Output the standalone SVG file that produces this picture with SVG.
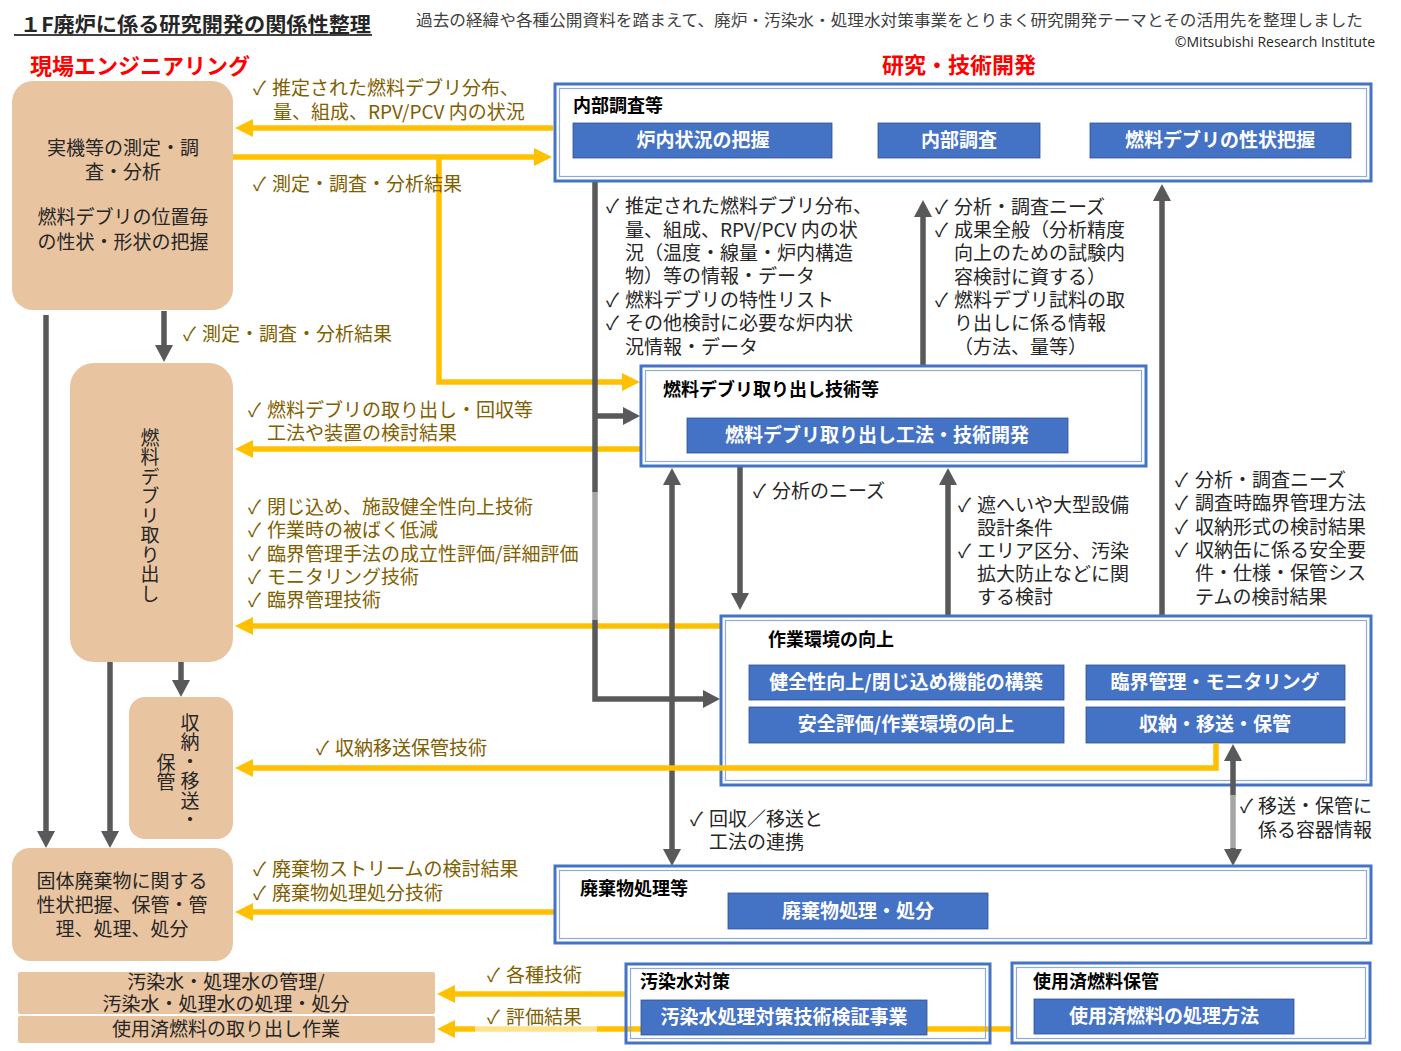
<svg xmlns="http://www.w3.org/2000/svg" width="1401" height="1051" viewBox="0 0 1401 1051">
<style>
text{font-family:"Noto Sans CJK JP","Noto Sans",sans-serif;}
.ttl{font-size:20px;font-weight:bold;fill:#262626;}
.desc{font-size:15.5px;fill:#404040;}
.copy{font-size:14px;fill:#262626;font-family:"Open Sans","Liberation Sans",sans-serif;}
.red{font-size:22px;font-weight:bold;fill:#FF0000;}
.peach{fill:#E9C4A1;}
.btxt{font-size:19px;fill:#262626;text-anchor:middle;}
.vtxt{font-size:19px;fill:#262626;writing-mode:vertical-rl;letter-spacing:0.5px;}
.frame{fill:#FFFFFF;stroke:#4472C4;stroke-width:3;}
.frameIn{fill:none;stroke:#8FAADC;stroke-width:1.2;}
.btn{fill:#4472C4;stroke:#2F528F;stroke-width:0.8;}
.btnt{font-size:19px;font-weight:bold;fill:#FFFFFF;text-anchor:middle;}
.flab{font-size:18px;font-weight:bold;fill:#000000;}
.ol{font-size:19px;fill:#7F6000;}
.gl{font-size:19px;fill:#262626;}
.y{fill:none;stroke:#FFC000;stroke-width:5.5;}
.g{fill:none;stroke:#595959;stroke-width:5.5;}
.gL{fill:none;stroke:#A6A6A6;stroke-width:5.5;}
.ya{marker-end:url(#ay);}
.ga{marker-end:url(#ag);}
</style>
<defs>
<marker id="ay" markerUnits="userSpaceOnUse" markerWidth="18" markerHeight="18" refX="10" refY="9" orient="auto"><path d="M0,0 L18,9 L0,18 z" fill="#FFC000"/></marker>
<marker id="ag" markerUnits="userSpaceOnUse" markerWidth="17" markerHeight="18" refX="9" refY="9" orient="auto"><path d="M0,0 L17,9 L0,18 z" fill="#595959"/></marker>
<marker id="ags" markerUnits="userSpaceOnUse" markerWidth="17" markerHeight="18" refX="9" refY="9" orient="auto-start-reverse"><path d="M0,0 L17,9 L0,18 z" fill="#595959"/></marker>
</defs>
<rect width="1401" height="1051" fill="#FFFFFF"/>

<g id="header">
<text class="ttl" x="20" y="32" textLength="351" lengthAdjust="spacingAndGlyphs">１F廃炉に係る研究開発の関係性整理</text>
<line x1="14" y1="35" x2="372" y2="35" stroke="#404040" stroke-width="2"/>
<text class="desc" x="416" y="26" textLength="947" lengthAdjust="spacingAndGlyphs">過去の経緯や各種公開資料を踏まえて、廃炉・汚染水・処理水対策事業をとりまく研究開発テーマとその活用先を整理しました</text>
<text class="copy" x="1375" y="47" text-anchor="end">©Mitsubishi Research Institute</text>
<text class="red" x="30" y="74">現場エンジニアリング</text>
<text class="red" x="959" y="73" text-anchor="middle">研究・技術開発</text>
</g>

<g id="connectors">
<path class="y ya" d="M553,128 H243"/>
<path class="y ya" d="M233,157 H544"/>
<path class="y ya" d="M439,157 V382 H632"/>
<path class="y ya" d="M641,449 H243"/>
<path class="y ya" d="M721,626 H243"/>
<path class="y ya" d="M555,912 H243"/>
<path class="y ya" d="M626,994 H445"/>
<path class="y ya" d="M1012,1029 H445"/>
<rect x="475" y="1025" width="122" height="8" fill="#FFFFFF" opacity="0.55"/>
<path class="g" d="M595,182 V492"/>
<path class="gL" d="M595,492 V620"/>
<path class="g ga" d="M595,620 V699 H712"/>
<path class="g ga" d="M595,416 H632"/>
<path class="g ga" d="M923,366 V208"/>
<path class="g ga" d="M1162,617 V192"/>
<path class="g ga" d="M740,467 V602"/>
<path class="g ga" d="M948,615 V476"/>
<path class="g" d="M672,476 V858" marker-start="url(#ags)" marker-end="url(#ag)"/>
<path class="g ga" d="M164,311 V354"/>
<path class="g ga" d="M46,315 V840"/>
<path class="g ga" d="M110,662 V840"/>
<path class="g ga" d="M181,662 V689"/>
</g>

<g id="connector-labels">
<text class="ol" x="253" y="95">✓<tspan x="272">推定された燃料デブリ分布、</tspan></text>
<text class="ol" x="273" y="119">量、組成、RPV/PCV 内の状況</text>
<text class="ol" x="253" y="191">✓<tspan x="272">測定・調査・分析結果</tspan></text>
<text class="ol" x="183" y="341">✓<tspan x="202">測定・調査・分析結果</tspan></text>
<text class="ol" x="248" y="417">✓<tspan x="267">燃料デブリの取り出し・回収等</tspan></text>
<text class="ol" x="267" y="440">工法や装置の検討結果</text>
<text class="ol" x="248" y="514">✓<tspan x="267">閉じ込め、施設健全性向上技術</tspan></text>
<text class="ol" x="248" y="537">✓<tspan x="267">作業時の被ばく低減</tspan></text>
<text class="ol" x="248" y="561">✓<tspan x="267">臨界管理手法の成立性評価/詳細評価</tspan></text>
<text class="ol" x="248" y="584">✓<tspan x="267">モニタリング技術</tspan></text>
<text class="ol" x="248" y="607">✓<tspan x="267">臨界管理技術</tspan></text>
<text class="ol" x="316" y="755">✓<tspan x="335">収納移送保管技術</tspan></text>
<text class="ol" x="253" y="876">✓<tspan x="272">廃棄物ストリームの検討結果</tspan></text>
<text class="ol" x="253" y="900">✓<tspan x="272">廃棄物処理処分技術</tspan></text>
<text class="ol" x="487" y="982">✓<tspan x="506">各種技術</tspan></text>
<text class="ol" x="487" y="1024">✓<tspan x="506">評価結果</tspan></text>

<text class="gl" x="606" y="213">✓<tspan x="625">推定された燃料デブリ分布、</tspan></text>
<text class="gl" x="625" y="237">量、組成、RPV/PCV 内の状</text>
<text class="gl" x="625" y="260">況（温度・線量・炉内構造</text>
<text class="gl" x="625" y="283">物）等の情報・データ</text>
<text class="gl" x="606" y="307">✓<tspan x="625">燃料デブリの特性リスト</tspan></text>
<text class="gl" x="606" y="330">✓<tspan x="625">その他検討に必要な炉内状</tspan></text>
<text class="gl" x="625" y="354">況情報・データ</text>

<text class="gl" x="935" y="214">✓<tspan x="954">分析・調査ニーズ</tspan></text>
<text class="gl" x="935" y="237">✓<tspan x="954">成果全般（分析精度</tspan></text>
<text class="gl" x="954" y="260">向上のための試験内</text>
<text class="gl" x="954" y="284">容検討に資する）</text>
<text class="gl" x="935" y="307">✓<tspan x="954">燃料デブリ試料の取</tspan></text>
<text class="gl" x="954" y="330">り出しに係る情報</text>
<text class="gl" x="954" y="354">（方法、量等）</text>

<text class="gl" x="1175" y="487">✓<tspan x="1195">分析・調査ニーズ</tspan></text>
<text class="gl" x="1175" y="510">✓<tspan x="1195">調査時臨界管理方法</tspan></text>
<text class="gl" x="1175" y="534">✓<tspan x="1195">収納形式の検討結果</tspan></text>
<text class="gl" x="1175" y="557">✓<tspan x="1195">収納缶に係る安全要</tspan></text>
<text class="gl" x="1195" y="580">件・仕様・保管シス</text>
<text class="gl" x="1195" y="604">テムの検討結果</text>

<text class="gl" x="753" y="498">✓<tspan x="772">分析のニーズ</tspan></text>

<text class="gl" x="958" y="512">✓<tspan x="977">遮へいや大型設備</tspan></text>
<text class="gl" x="977" y="535">設計条件</text>
<text class="gl" x="958" y="558">✓<tspan x="977">エリア区分、汚染</tspan></text>
<text class="gl" x="977" y="581">拡大防止などに関</text>
<text class="gl" x="977" y="604">する検討</text>

<text class="gl" x="690" y="826">✓<tspan x="709">回収／移送と</tspan></text>
<text class="gl" x="709" y="849">工法の連携</text>

<text class="gl" x="1240" y="813">✓<tspan x="1258">移送・保管に</tspan></text>
<text class="gl" x="1258" y="837">係る容器情報</text>
</g>

<g id="node-jikki">
<rect class="peach" x="12" y="81" width="221" height="229" rx="21"/>
<text class="btxt" x="123" y="155">実機等の測定・調</text>
<text class="btxt" x="123" y="179">査・分析</text>
<text class="btxt" x="123" y="224">燃料デブリの位置毎</text>
<text class="btxt" x="123" y="249">の性状・形状の把握</text>
</g>

<g id="node-toridashi">
<rect class="peach" x="70" y="363" width="163" height="299" rx="24"/>
<text class="vtxt" x="150" y="428">燃料デブリ取り出し</text>
</g>

<g id="node-shuno">
<rect class="peach" x="129" y="697" width="104" height="142" rx="16"/>
<text class="vtxt" x="190" y="713">収納・移送・</text>
<text class="vtxt" x="166" y="753">保管</text>
</g>

<g id="node-kotai">
<rect class="peach" x="12" y="848" width="221" height="113" rx="18"/>
<text class="btxt" x="122" y="888">固体廃棄物に関する</text>
<text class="btxt" x="122" y="912">性状把握、保管・管</text>
<text class="btxt" x="122" y="936">理、処理、処分</text>
</g>

<g id="node-osensui-kanri">
<rect class="peach" x="18" y="972" width="417" height="42" rx="2"/>
<text class="btxt" x="226" y="989">汚染水・処理水の管理/</text>
<text class="btxt" x="226" y="1011">汚染水・処理水の処理・処分</text>
</g>

<g id="node-shiyozumi-sagyo">
<rect class="peach" x="18" y="1016" width="417" height="27" rx="2"/>
<text class="btxt" x="226" y="1036">使用済燃料の取り出し作業</text>
</g>

<g id="node-naibu">
<rect class="frame" x="555" y="84" width="816" height="97"/>
<rect class="frameIn" x="559.5" y="88.5" width="807" height="88"/>
<text class="flab" x="573" y="112">内部調査等</text>
<rect class="btn" x="573" y="123" width="259" height="35"/>
<text class="btnt" x="703" y="147">炉内状況の把握</text>
<rect class="btn" x="878" y="123" width="162" height="35"/>
<text class="btnt" x="959" y="147">内部調査</text>
<rect class="btn" x="1090" y="123" width="261" height="35"/>
<text class="btnt" x="1220" y="147">燃料デブリの性状把握</text>
</g>

<g id="node-debris">
<rect class="frame" x="641" y="366" width="505" height="100"/>
<rect class="frameIn" x="645.5" y="370.5" width="496" height="91"/>
<text class="flab" x="663" y="396">燃料デブリ取り出し技術等</text>
<rect class="btn" x="687" y="418" width="381" height="35"/>
<text class="btnt" x="877" y="442">燃料デブリ取り出し工法・技術開発</text>
</g>

<g id="node-sagyo">
<rect class="frame" x="721" y="616" width="650" height="169"/>
<rect class="frameIn" x="725.5" y="620.5" width="641" height="160"/>
<text class="flab" x="768" y="646">作業環境の向上</text>
<rect class="btn" x="749" y="665" width="315" height="35"/>
<text class="btnt" x="906" y="689">健全性向上/閉じ込め機能の構築</text>
<rect class="btn" x="1086" y="665" width="259" height="35"/>
<text class="btnt" x="1215" y="689">臨界管理・モニタリング</text>
<rect class="btn" x="749" y="707" width="315" height="36"/>
<text class="btnt" x="906" y="731">安全評価/作業環境の向上</text>
<rect class="btn" x="1086" y="707" width="259" height="36"/>
<text class="btnt" x="1215" y="731">収納・移送・保管</text>
</g>

<g id="connectors-over">
<path class="y ya" d="M1216,743 V768 H243"/>
<path class="g" d="M1233,752 V795" marker-start="url(#ags)"/>
<path class="gL" d="M1233,795 V848"/>
<path class="g ga" d="M1233,848 V858"/>
</g>

<g id="node-haikibutsu">
<rect class="frame" x="555" y="866" width="816" height="77"/>
<rect class="frameIn" x="559.5" y="870.5" width="807" height="68"/>
<text class="flab" x="580" y="895">廃棄物処理等</text>
<rect class="btn" x="728" y="893" width="260" height="36"/>
<text class="btnt" x="858" y="918">廃棄物処理・処分</text>
</g>

<g id="node-osensui">
<rect class="frame" x="626" y="964" width="364" height="79" style="fill:none"/>
<rect class="frameIn" x="630.5" y="968.5" width="355" height="70"/>
<text class="flab" x="640" y="988">汚染水対策</text>
<rect class="btn" x="641" y="1000" width="286" height="35"/>
<text class="btnt" x="784" y="1024">汚染水処理対策技術検証事業</text>
</g>

<g id="node-shiyozumi">
<rect class="frame" x="1012" y="963" width="358" height="80"/>
<rect class="frameIn" x="1016.5" y="967.5" width="349" height="71"/>
<text class="flab" x="1033" y="988">使用済燃料保管</text>
<rect class="btn" x="1034" y="999" width="260" height="35"/>
<text class="btnt" x="1164" y="1023">使用済燃料の処理方法</text>
</g>
</svg>
